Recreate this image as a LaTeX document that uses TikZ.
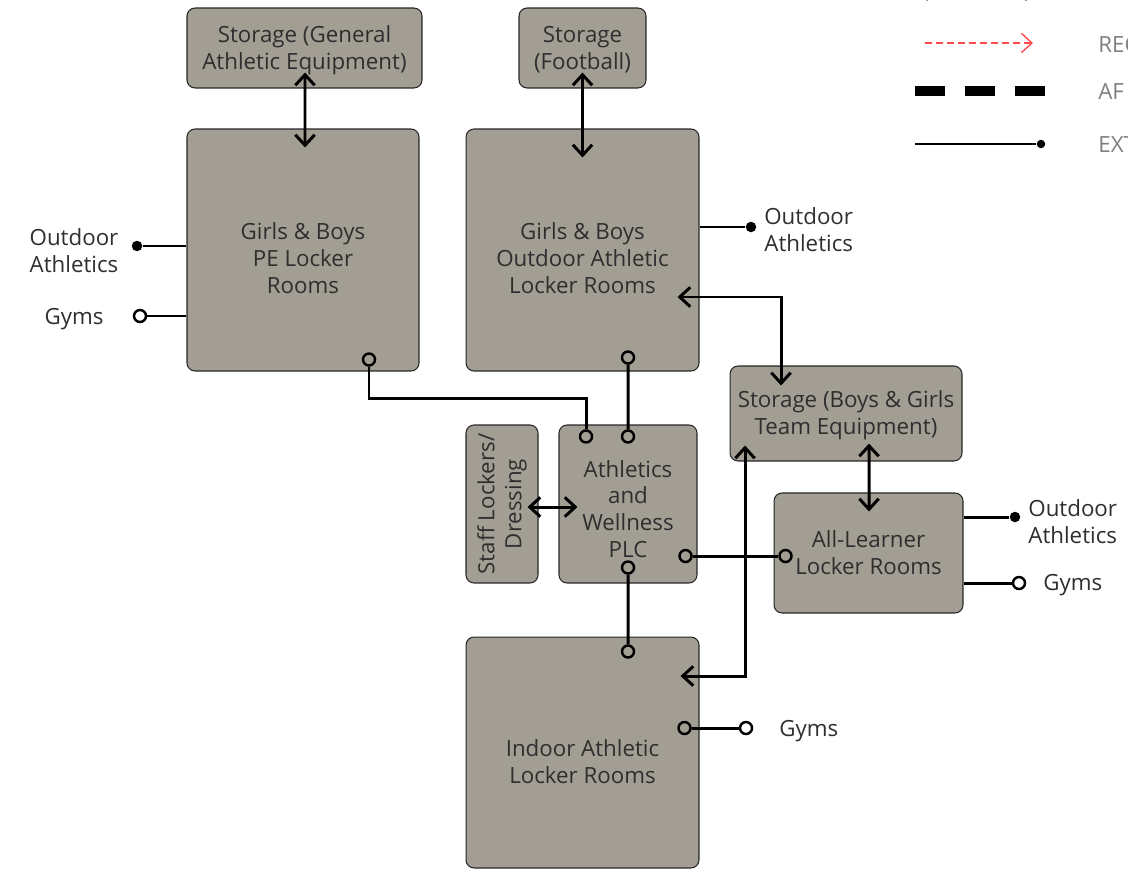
\documentclass[tikz,border=0pt]{standalone}
\usepackage{fontspec}
\setmainfont{Open Sans}
\usetikzlibrary{arrows.meta,calc}

\definecolor{roomfill}{HTML}{A39E93}
\definecolor{roomtext}{HTML}{2E2E2E}
\definecolor{legendtext}{HTML}{7F7F7F}
\definecolor{reqred}{HTML}{FF4D4D}

\begin{document}
\begin{tikzpicture}[
    x=0.02cm, y=-0.02cm,
    font=\fontsize{12.7}{15.3}\selectfont,
    room/.style={rectangle, rounded corners=0.16cm, draw=black!85, line width=0.6pt, fill=roomfill, inner sep=0pt},
    roomtxt/.style={text=roomtext, align=center, inner sep=0pt},
    ext/.style={text=roomtext, align=center, inner sep=0pt},
    link/.style={line width=1.7pt},
    twoway/.style={link, {Straight Barb[length=6pt,width=11pt]}-{Straight Barb[length=6pt,width=11pt]}},
    port/.style={circle, draw, line width=1.4pt, minimum size=0.24cm, inner sep=0pt},
    dot/.style={circle, fill, minimum size=0.21cm, inner sep=0pt},
    legend/.style={text=legendtext, anchor=west, inner sep=0pt}
]
\useasboundingbox (0,0) rectangle (1128,872);

% rooms
\node[room, minimum width=4.7cm, minimum height=1.6cm, label={[roomtxt, yshift=-0.04cm]center:Storage (General\\Athletic Equipment)}] (stgen) at (304.5,48) {};
\node[room, minimum width=2.54cm, minimum height=1.6cm, label={[roomtxt, yshift=-0.04cm]center:Storage\\(Football)}] (stfoot) at (582.5,48) {};
\node[room, minimum width=4.64cm, minimum height=4.84cm, label={[roomtxt, yshift=-0.16cm]center:Girls \& Boys\\PE Locker\\Rooms}] (pe) at (303,250) {};
\node[room, minimum width=4.66cm, minimum height=4.84cm, label={[roomtxt, yshift=-0.16cm]center:Girls \& Boys\\Outdoor Athletic\\Locker Rooms}] (outdoor) at (582.5,250) {};
\node[room, minimum width=4.64cm, minimum height=1.9cm, label={[roomtxt, yshift=-0.04cm]center:Storage (Boys \& Girls\\Team Equipment)}] (stteam) at (846,413.5) {};
\node[room, minimum width=1.44cm, minimum height=3.16cm, label={[roomtxt, rotate=90]center:Staff Lockers/\\Dressing}] (staff) at (502,504) {};
\node[room, minimum width=2.76cm, minimum height=3.16cm, label={[roomtxt, yshift=-0.1cm]center:Athletics\\and\\Wellness\\PLC}] (plc) at (628,504) {};
\node[room, minimum width=3.78cm, minimum height=2.4cm, label={[roomtxt]center:All-Learner\\Locker Rooms}] (allrooms) at (868.5,553) {};
\node[room, minimum width=4.66cm, minimum height=4.62cm, label={[roomtxt, yshift=-0.18cm]center:Indoor Athletic\\Locker Rooms}] (indoor) at (582.5,752.5) {};

% outside destinations
\node[ext] (oatxt1) at (74,251) {Outdoor\\Athletics};
\node[ext] (gytxt1) at (74,319) {Gyms};
\node[dot] (oadot1) at (137,246) {};
\node[port] (gyport1) at (140,316) {};
\node[ext, anchor=west] (oatxt2) at (764,230) {Outdoor\\Athletics};
\node[dot] (oadot2) at (751,227) {};
\node[ext, anchor=west] (oatxt3) at (1028,522) {Outdoor\\Athletics};
\node[dot] (oadot3) at (1015,517) {};
\node[ext, anchor=west] (gytxt3) at (1043,585) {Gyms};
\node[port] (gyport3) at (1019,583) {};
\node[ext, anchor=west] (gytxt4) at (779,731) {Gyms};
\node[port] (gyport4) at (746,728) {};

% ports on rooms
\node[port] (pe-s) at ($(pe.south)+(66,-12)$) {};
\node[port] (plc-n1) at ($(plc.north)+(-42,12)$) {};
\node[port] (plc-n2) at ($(plc.north)+(0,12)$) {};
\node[port] (out-s) at ($(outdoor.south)+(45.5,-14)$) {};
\node[port] (plc-e) at ($(plc.east)+(-12,52)$) {};
\node[port] (all-w) at ($(allrooms.west)+(12,3)$) {};
\node[port] (plc-s) at ($(plc.south)+(0,-16)$) {};
\node[port] (ind-n) at ($(indoor.north)+(45.5,15)$) {};
\node[port] (ind-e) at ($(indoor.east)+(-15,-24.5)$) {};

% arrow tips inside rooms
\coordinate (stgen-tip) at ($(stgen.south)+(0.5,-16)$);
\coordinate (pe-tip) at ($(pe.north)+(2,19)$);
\coordinate (stfoot-tip) at ($(stfoot.south)+(0,-16)$);
\coordinate (out-n-tip) at ($(outdoor.north)+(0,29)$);
\coordinate (out-e-tip) at ($(outdoor.east)+(-22,47)$);
\coordinate (stteam-n-tip) at ($(stteam.north)+(-65,20)$);
\coordinate (staff-tip) at ($(staff.east)+(-11,3)$);
\coordinate (plc-w-tip) at ($(plc.west)+(19,3)$);
\coordinate (stteam-s1-tip) at ($(stteam.south)+(-101,-16)$);
\coordinate (ind-e-tip) at ($(indoor.east)+(-19,-76.5)$);
\coordinate (stteam-s2-tip) at ($(stteam.south)+(23,-18)$);
\coordinate (all-n-tip) at ($(allrooms.north)+(0.5,19)$);

% connectors
\draw[twoway] (stgen-tip) -- (pe-tip);
\draw[twoway] (stfoot-tip) -- (out-n-tip);
\draw[twoway] (out-e-tip) -| (stteam-n-tip);
\draw[link] (pe-s) -- ++(0,39) -| (plc-n1);
\draw[link] (out-s) -- (plc-n2);
\draw[twoway] (staff-tip) -- (plc-w-tip);
\draw[link] (plc-e) -- (all-w);
\draw[link] (plc-s) -- (ind-n);
\draw[twoway] (stteam-s1-tip) |- (ind-e-tip);
\draw[twoway] (stteam-s2-tip) -- (all-n-tip);

\draw[link] (oadot1) -- (oadot1 -| pe.west);
\draw[link] (gyport1) -- (gyport1 -| pe.west);
\draw[link] (outdoor.east |- oadot2) -- (oadot2);
\draw[link] (allrooms.east |- oadot3) -- (oadot3);
\draw[link] (allrooms.east |- gyport3) -- (gyport3);
\draw[link] (ind-e) -- (gyport4);

% legend
\coordinate (lg0a) at (918,-8);   \coordinate (lg0b) at (1035,-8);
\coordinate (lg1a) at (925,43);   \coordinate (lg1b) at (1033,43);
\coordinate (lg2a) at (915,91);   \coordinate (lg2b) at (1045,91);
\coordinate (lg3a) at (915,144);
\node[dot, minimum size=0.17cm] (lg3b) at (1041,144) {};
\draw[legendtext, line width=0.7pt, {Straight Barb[length=5pt,width=10pt]}-{Straight Barb[length=5pt,width=10pt]}] (lg0a) -- (lg0b);
\draw[reqred, line width=0.8pt, dash pattern=on 0.14cm off 0.08cm, -{Straight Barb[length=6pt,width=11pt]}] (lg1a) -- (lg1b);
\draw[line width=0.2cm, dash pattern=on 0.6cm off 0.4cm] (lg2a) -- (lg2b);
\draw[line width=0.9pt] (lg3a) -- (lg3b);
\node[legend] (lgtxt0) at (1098,-7) {BI};
\node[legend] (lgtxt1) at (1098,45) {REC};
\node[legend] (lgtxt2) at (1098,92) {AF};
\node[legend] (lgtxt3) at (1098,145) {EXT};
\end{tikzpicture}
\end{document}
